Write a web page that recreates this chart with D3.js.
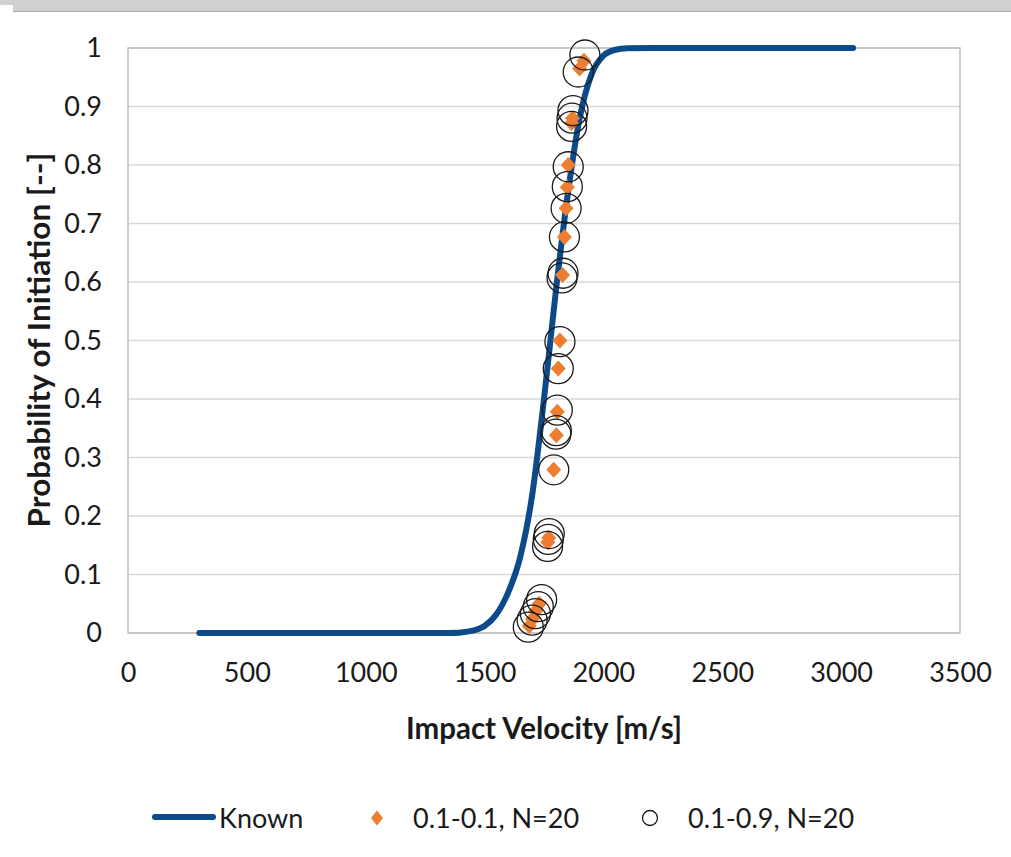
<!DOCTYPE html>
<html>
<head>
<meta charset="utf-8">
<script src="https://cdn.jsdelivr.net/npm/d3@7"></script>
<style>
  body { margin: 0; background: #fff; }
  svg { display: block; font-family: Lato, "Open Sans", sans-serif; }
</style>
</head>
<body>
<div id="chart"></div>
<script>
// Known curve
const knownVelocity = [300, 1300, 1350, 1400, 1450, 1500, 1550, 1600, 1650, 1700, 1750, 1800, 1850, 1900, 1950, 2000, 2050, 2100, 2200, 3050];
const knownProb = [0, 0, 0.0002, 0.001, 0.004, 0.012, 0.032, 0.07, 0.13, 0.235, 0.40, 0.585, 0.75, 0.88, 0.955, 0.987, 0.997, 0.9995, 1, 1];

// 0.1-0.1, N=20 (orange diamonds)
const diamondVelocity = [1688, 1702, 1716, 1730, 1766, 1770, 1791, 1802, 1806, 1810, 1817, 1828, 1836, 1843, 1848, 1852, 1866, 1870, 1900, 1918];
const diamondProb = [0.012, 0.024, 0.038, 0.050, 0.155, 0.163, 0.279, 0.338, 0.378, 0.452, 0.500, 0.612, 0.677, 0.726, 0.762, 0.800, 0.872, 0.880, 0.965, 0.978];

// 0.1-0.9, N=20 (open circles)
const circleVelocity = [1684, 1700, 1714, 1726, 1740, 1765, 1768, 1772, 1791, 1800, 1802, 1806, 1810, 1817, 1826, 1830, 1836, 1843, 1848, 1852, 1866, 1868, 1872, 1894, 1922];
const circleProb = [0.010, 0.022, 0.033, 0.045, 0.057, 0.148, 0.160, 0.170, 0.279, 0.340, 0.346, 0.381, 0.452, 0.498, 0.607, 0.615, 0.677, 0.726, 0.763, 0.797, 0.866, 0.880, 0.893, 0.959, 0.988];

const xTicks = [0, 500, 1000, 1500, 2000, 2500, 3000, 3500];
const yTicks = [0, 0.1, 0.2, 0.3, 0.4, 0.5, 0.6, 0.7, 0.8, 0.9, 1];

const width = 1011, height = 857;
const margin = { top: 48, left: 128, right: 51, bottom: 224 };
const plotW = width - margin.left - margin.right;
const plotH = height - margin.top - margin.bottom;
const ink = "#1a1a1a";
const blue = "#0b4a8b";
const orange = "#ed7d31";

const svg = d3.select("#chart").append("svg")
    .attr("width", width)
    .attr("height", height);

// grey window strip at the top
svg.append("rect").attr("x", 0).attr("y", 0).attr("width", width).attr("height", 5).attr("fill", "#d0d0d0");
svg.append("rect").attr("x", 13).attr("y", 0).attr("width", width - 13).attr("height", 11).attr("fill", "#d0d0d0");
svg.append("line").attr("x1", 13).attr("x2", width).attr("y1", 11.5).attr("y2", 11.5)
    .attr("stroke", "#a8a8a8").attr("stroke-width", 1);

const x = d3.scaleLinear().domain([0, 3500]).range([0, plotW]);
const y = d3.scaleLinear().domain([0, 1]).range([plotH, 0]);

const g = svg.append("g").attr("transform", "translate(" + margin.left + "," + margin.top + ")");

// gridlines
g.selectAll(".grid")
    .data(yTicks)
    .enter().append("line")
    .attr("class", "grid")
    .attr("x1", 0).attr("x2", plotW)
    .attr("y1", d => y(d)).attr("y2", d => y(d))
    .attr("stroke", "#d9d9d9").attr("stroke-width", 1.5);

// plot border
g.append("rect")
    .attr("x", 0).attr("y", 0).attr("width", plotW).attr("height", plotH)
    .attr("fill", "none").attr("stroke", "#bfbfbf").attr("stroke-width", 1.5);

// axes (labels only)
const xAxis = g.append("g")
    .attr("transform", "translate(0," + plotH + ")")
    .call(d3.axisBottom(x).tickValues(xTicks).tickSize(0).tickPadding(32).tickFormat(d3.format("d")));
const yAxis = g.append("g")
    .call(d3.axisLeft(y).tickValues(yTicks).tickSize(0).tickPadding(26).tickFormat(d => d === 0 || d === 1 ? d3.format("d")(d) : d3.format(".1f")(d)));
[xAxis, yAxis].forEach(a => {
    a.select(".domain").remove();
    a.selectAll("text").attr("font-size", 27).attr("fill", ink).attr("font-family", "Lato, sans-serif");
});
xAxis.selectAll("text").attr("dy", "0.62em");

// known curve
const knownData = knownVelocity.map((v, i) => [v, knownProb[i]]);
g.append("path")
    .datum(knownData)
    .attr("fill", "none")
    .attr("stroke", blue)
    .attr("stroke-width", 6)
    .attr("stroke-linecap", "round")
    .attr("d", d3.line().x(d => x(d[0])).y(d => y(d[1])).curve(d3.curveMonotoneX));

// diamond marker path (rhombus)
function rhombus(w, h) {
    return "M0," + (-h) + "L" + w + ",0L0," + h + "L" + (-w) + ",0Z";
}

g.selectAll(".dia")
    .data(diamondVelocity.map((v, i) => [v, diamondProb[i]]))
    .enter().append("path")
    .attr("class", "dia")
    .attr("transform", d => "translate(" + x(d[0]) + "," + y(d[1]) + ")")
    .attr("d", rhombus(7.5, 8))
    .attr("fill", orange);

// circles
g.selectAll(".circ")
    .data(circleVelocity.map((v, i) => [v, circleProb[i]]))
    .enter().append("circle")
    .attr("class", "circ")
    .attr("cx", d => x(d[0])).attr("cy", d => y(d[1]))
    .attr("r", 15)
    .attr("fill", "none")
    .attr("stroke", ink)
    .attr("stroke-width", 1.3);

// axis titles
svg.append("text")
    .attr("x", 544).attr("y", 739)
    .attr("text-anchor", "middle")
    .attr("font-size", 30).attr("font-weight", "bold").attr("fill", ink)
    .attr("textLength", 276).attr("lengthAdjust", "spacingAndGlyphs")
    .text("Impact Velocity [m/s]");
svg.append("text")
    .attr("transform", "translate(50,340) rotate(-90)")
    .attr("text-anchor", "middle")
    .attr("font-size", 30).attr("font-weight", "bold").attr("fill", ink)
    .attr("textLength", 375).attr("lengthAdjust", "spacingAndGlyphs")
    .text("Probability of Initiation [--]");

// legend
const legend = svg.append("g").attr("font-size", 27).attr("fill", ink);
legend.append("line")
    .attr("x1", 155).attr("x2", 213).attr("y1", 817).attr("y2", 817)
    .attr("stroke", blue).attr("stroke-width", 6).attr("stroke-linecap", "round");
legend.append("text").attr("x", 219).attr("y", 828).text("Known");
legend.append("path")
    .attr("transform", "translate(377,818)")
    .attr("d", rhombus(6, 7.5))
    .attr("fill", orange);
legend.append("text").attr("x", 413).attr("y", 828).text("0.1-0.1, N=20");
legend.append("circle")
    .attr("cx", 650).attr("cy", 818).attr("r", 7.5)
    .attr("fill", "none").attr("stroke", ink).attr("stroke-width", 1.3);
legend.append("text").attr("x", 688).attr("y", 828).text("0.1-0.9, N=20");
</script>
</body>
</html>
